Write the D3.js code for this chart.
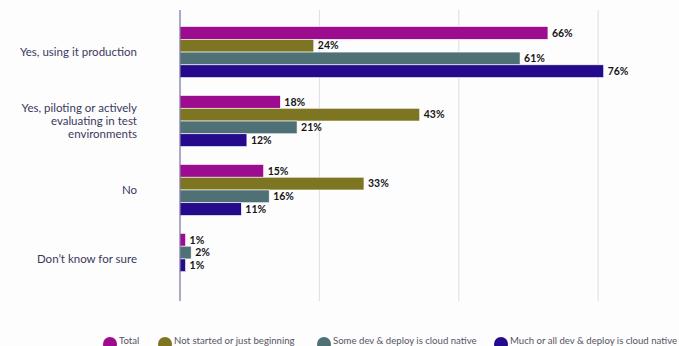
<!DOCTYPE html>
<html>
<head>
<meta charset="utf-8">
<script src="https://cdn.jsdelivr.net/npm/d3@7"></script>
<style>
  html, body { margin: 0; padding: 0; background: #fdfdfd; }
  svg { display: block; }
</style>
</head>
<body>
<svg id="chart" width="679" height="346"></svg>
<script>
// Survey answers (rows) and respondent segments (series)
const categories = [
  "Yes, using it production",
  "Yes, piloting or actively evaluating in test environments",
  "No",
  "Don\u2019t know for sure"
];
const categoryLines = [
  ["Yes, using it production"],
  ["Yes, piloting or actively", "evaluating in test", "environments"],
  ["No"],
  ["Don\u2019t know for sure"]
];
const seriesNames = [
  "Total",
  "Not started or just beginning",
  "Some dev & deploy is cloud native",
  "Much or all dev & deploy is cloud native"
];
const seriesColors = ["#9c0c8e", "#7d7521", "#4f7075", "#250b8c"];

// Percent values per series, in category order (null = no answer shown)
const totalValues      = [66, 18, 15, 1];
const notStartedValues = [24, 43, 33, null];
const someDevValues    = [61, 21, 16, 2];
const muchOrAllValues  = [76, 12, 11, 1];
const seriesValues = [totalValues, notStartedValues, someDevValues, muchOrAllValues];

const gridTicks = [25, 50, 75];

const svg = d3.select("#chart");
const fontFamily = "Lato, 'Noto Sans', sans-serif";

const x = d3.scaleLinear().domain([0, 80]).range([180, 626]);
const y = d3.scaleBand().domain(categories).range([10, 301])
  .paddingInner(0.26).paddingOuter(0.24);

// Gridlines
svg.append("g")
  .selectAll("line")
  .data(gridTicks)
  .join("line")
  .attr("x1", d => x(d)).attr("x2", d => x(d))
  .attr("y1", 10).attr("y2", 301)
  .attr("stroke", "#dcdce8").attr("stroke-width", 1);

// Bars: each row stacks only the series that have a value
const rows = categories.map((c, ci) => {
  const present = seriesNames
    .map((s, si) => ({ s, si, v: seriesValues[si][ci] }))
    .filter(d => d.v !== null);
  return { c, ci, present };
});

const sub = d3.scaleBand().domain(d3.range(seriesNames.length))
  .range([0, y.bandwidth()]).padding(0);

const barData = rows.flatMap(r => r.present.map((d, k) => ({ ...d, c: r.c, slot: k })));

const g = svg.append("g");
g.selectAll("rect")
  .data(barData)
  .join("rect")
  .attr("x", x(0))
  .attr("y", d => y(d.c) + sub(d.slot))
  .attr("width", d => x(d.v) - x(0))
  .attr("height", sub.bandwidth())
  .attr("fill", d => seriesColors[d.si])
  .attr("stroke", "#ffffff")
  .attr("stroke-width", 0.6);

g.selectAll("text")
  .data(barData)
  .join("text")
  .attr("x", d => x(d.v) + 4)
  .attr("y", d => y(d.c) + sub(d.slot) + sub.bandwidth() / 2)
  .attr("dy", "0.36em")
  .attr("font-family", fontFamily)
  .attr("font-weight", 700)
  .attr("font-size", 10.5)
  .attr("fill", "#151515")
  .text(d => d.v + "%");

// Baseline axis
svg.append("line")
  .attr("x1", x(0)).attr("x2", x(0))
  .attr("y1", 10).attr("y2", 301)
  .attr("stroke", "#5e5590").attr("stroke-width", 1);

// Category labels
const lineH = 13;
const labels = svg.append("g");
categories.forEach((c, ci) => {
  const lines = categoryLines[ci];
  const cy = y(c) + y.bandwidth() / 2 - (lines.length - 1) * lineH / 2;
  const t = labels.append("text")
    .attr("text-anchor", "end")
    .attr("font-family", fontFamily)
    .attr("font-size", 11.5)
    .attr("fill", "#3b3960");
  lines.forEach((ln, i) => {
    t.append("tspan")
      .attr("x", 137)
      .attr("y", cy + i * lineH)
      .attr("dy", "0.36em")
      .text(ln);
  });
});

// Legend
const legendX = [110, 165, 324, 501];
const legend = svg.append("g");
seriesNames.forEach((s, i) => {
  legend.append("circle")
    .attr("cx", legendX[i]).attr("cy", 344).attr("r", 7)
    .attr("fill", seriesColors[i]);
  legend.append("text")
    .attr("x", legendX[i] + 9).attr("y", 344)
    .attr("font-family", fontFamily)
    .attr("font-size", 9.6)
    .attr("fill", "#555566")
    .text(s);
});
</script>
</body>
</html>
